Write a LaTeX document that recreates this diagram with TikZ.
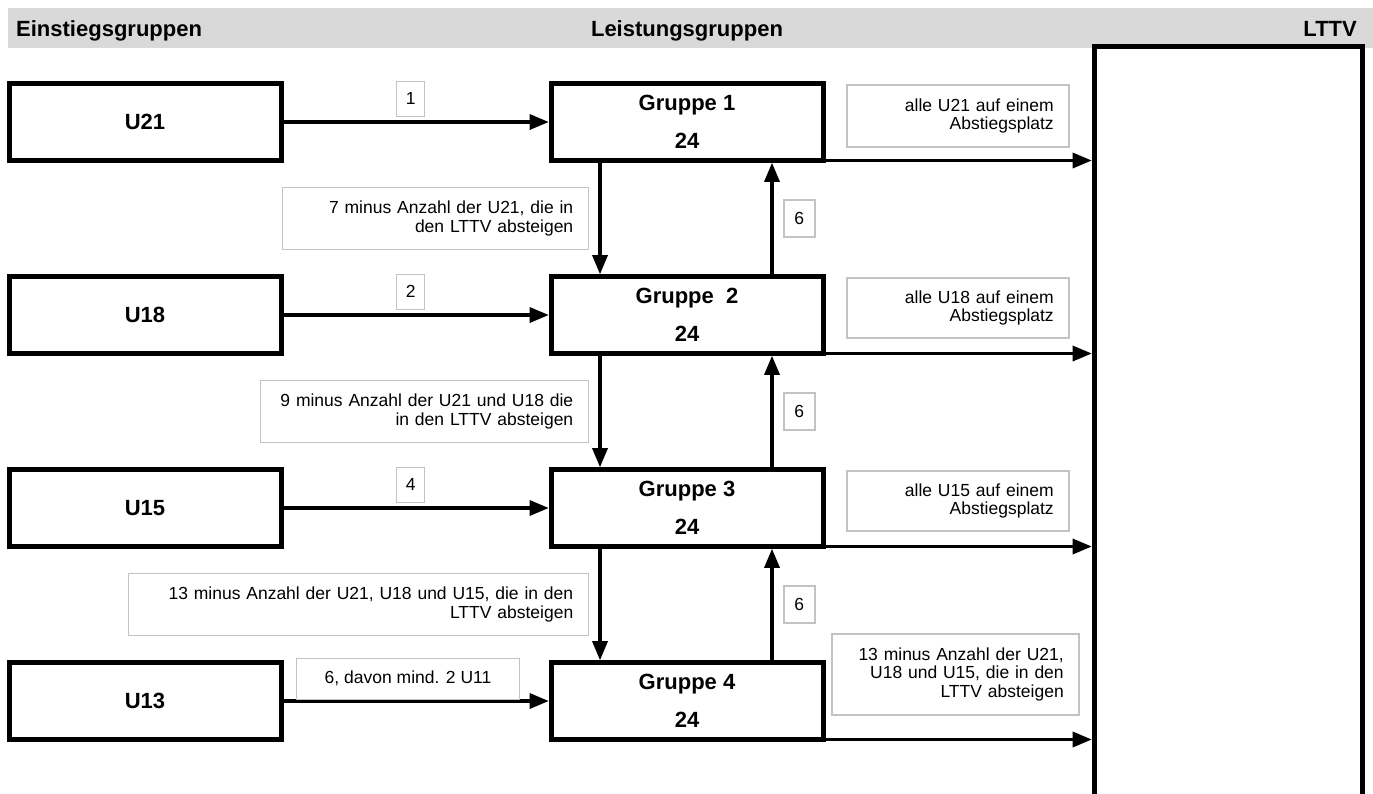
\documentclass[tikz,border=0pt]{standalone}
\usepackage{fontspec}
\setmainfont{Liberation Sans}
\usetikzlibrary{arrows}
\usepackage{color}
\definecolor{kopfgrau}{RGB}{217,217,217}
\definecolor{rahmengrau}{RGB}{195,195,195}

\begin{document}
\begin{tikzpicture}[line join=miter,>=triangle 45,x=1pt,y=-1pt,
		gruppe/.style={draw,line width=5pt,minimum width=272pt,minimum height=77pt,inner sep=0pt,
			align=center,font=\fontsize{22}{24}\selectfont\bfseries},
		pfeil/.style={->,line width=3.5pt},
		hinweis/.style={draw=rahmengrau,line width=1.5pt,inner xsep=15pt,inner ysep=0pt,align=right,
			font=\fontsize{17.5}{18.5}\selectfont},
		zahl/.style={draw=rahmengrau,line width=1.5pt,inner sep=0pt,minimum width=28pt,minimum height=35pt,
			font=\fontsize{17.5}{18.5}\selectfont},
		kopf/.style={inner sep=0pt,font=\fontsize{22}{24}\selectfont\bfseries}]

		\useasboundingbox (0,0) rectangle (1373,793);

		%Kopfzeile
		\fill[kopfgrau] (8,7.5) rectangle (1373,48);
		\node[kopf,anchor=base west] (kopfeins) at (16,36) {Einstiegsgruppen};
		\node[kopf,anchor=base] (kopfleist) at (687,36) {Leistungsgruppen};
		\node[kopf,anchor=base east] (kopflttv) at (1357,36) {LTTV};

		%LTTV
		\node[draw,line width=5pt,minimum width=268pt,minimum height=764pt] (lttv) at (1228,428) {};

		%Einstiegsgruppen
		\node[gruppe] (u21) at (145,122) {U21};
		\node[gruppe] (u18) at (145,315) {U18};
		\node[gruppe] (u15) at (145,508) {U15};
		\node[gruppe] (u13) at (145,701) {U13};

		%Leistungsgruppen
		\node[gruppe] (g1) at (687,122) {Gruppe 1\\[14pt]24};
		\node[gruppe] (g2) at (687,315) {Gruppe\ \ 2\\[14pt]24};
		\node[gruppe] (g3) at (687,508) {Gruppe 3\\[14pt]24};
		\node[gruppe] (g4) at (687,701) {Gruppe 4\\[14pt]24};

		%Zugaenge
		\draw[pfeil] (u21) -- node[zahl,pos=0.48,above=5pt] (z1) {1} (g1);
		\draw[pfeil] (u18) -- node[zahl,pos=0.48,above=5pt] (z2) {2} (g2);
		\draw[pfeil] (u15) -- node[zahl,pos=0.48,above=5pt] (z4) {4} (g3);
		\draw[pfeil] (u13) -- node[hinweis,align=center,pos=0.47,above=1pt,minimum width=223pt,minimum height=41pt] (z13) {6, davon mind. 2 U11} (g4);

		%Abstiege
		\draw[pfeil] ([xshift=-87pt]g1.south) -- node[hinweis,left=11pt,text width=276pt,minimum height=62pt] (ab1)
			{7 minus Anzahl der U21, die in\\den LTTV absteigen} ([xshift=-87pt]g2.north);
		\draw[pfeil] ([xshift=-87pt]g2.south) -- node[hinweis,left=11pt,text width=298pt,minimum height=62pt] (ab2)
			{9 minus Anzahl der U21 und U18 die\\in den LTTV absteigen} ([xshift=-87pt]g3.north);
		\draw[pfeil] ([xshift=-87pt]g3.south) -- node[hinweis,left=11pt,text width=430pt,minimum height=62pt] (ab3)
			{13 minus Anzahl der U21, U18 und U15, die in den\\LTTV absteigen} ([xshift=-87pt]g4.north);

		%Aufstiege
		\draw[pfeil] ([xshift=85pt]g2.north) -- node[zahl,right=11pt,minimum width=31pt,minimum height=37pt] (auf1) {6} ([xshift=85pt]g1.south);
		\draw[pfeil] ([xshift=85pt]g3.north) -- node[zahl,right=11pt,minimum width=31pt,minimum height=37pt] (auf2) {6} ([xshift=85pt]g2.south);
		\draw[pfeil] ([xshift=85pt]g4.north) -- node[zahl,right=11pt,minimum width=31pt,minimum height=37pt] (auf3) {6} ([xshift=85pt]g3.south);

		%in den LTTV
		\draw[pfeil] ([yshift=2.5pt]g1.south east) -- ([yshift=2.5pt]g1.south east -| lttv.west);
		\draw[pfeil] ([yshift=2.5pt]g2.south east) -- ([yshift=2.5pt]g2.south east -| lttv.west);
		\draw[pfeil] ([yshift=2.5pt]g3.south east) -- ([yshift=2.5pt]g3.south east -| lttv.west);
		\draw[pfeil] ([yshift=2.5pt]g4.south east) -- ([yshift=2.5pt]g4.south east -| lttv.west);

		\node[hinweis,anchor=north west,text width=192pt,minimum height=62pt] (lt1) at (846,84)
			{alle U21 auf einem\\Abstiegsplatz};
		\node[hinweis,anchor=north west,text width=192pt,minimum height=60pt] (lt2) at (846,277)
			{alle U18 auf einem\\Abstiegsplatz};
		\node[hinweis,anchor=north west,text width=192pt,minimum height=60pt] (lt3) at (846,470)
			{alle U15 auf einem\\Abstiegsplatz};
		\node[hinweis,anchor=north west,text width=217pt,minimum height=81pt] (lt4) at (831,633)
			{13 minus Anzahl der U21,\\U18 und U15, die in den\\LTTV absteigen};

\end{tikzpicture}
\end{document}
